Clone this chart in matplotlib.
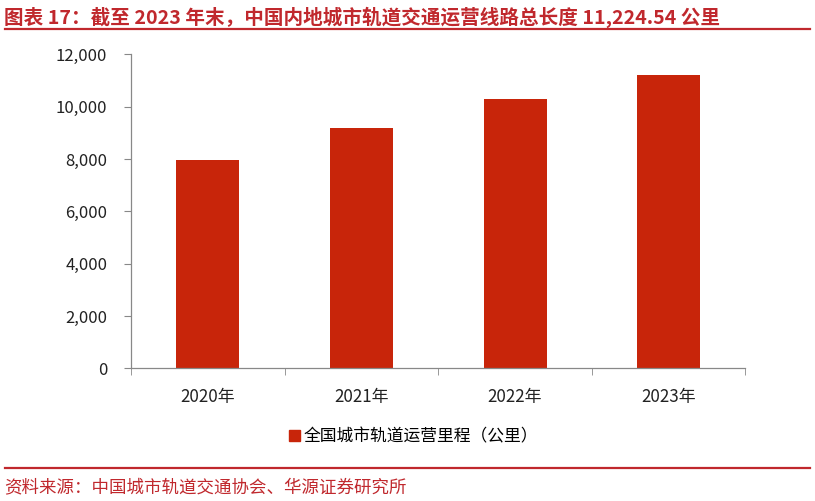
import matplotlib.pyplot as plt
from matplotlib.patches import Rectangle
from matplotlib.lines import Line2D

plt.rcParams['font.family'] = ['Noto Sans CJK SC', 'DejaVu Sans']

# data
years = ['2020年', '2021年', '2022年', '2023年']
km = [7978.19, 9192.62, 10287.45, 11224.54]
yticks = [0, 2000, 4000, 6000, 8000, 10000, 12000]

title = '图表 17：截至 2023 年末，中国内地城市轨道交通运营线路总长度 11,224.54 公里'
source = '资料来源：中国城市轨道交通协会、华源证券研究所'
series_name = '全国城市轨道运营里程（公里）'

bar_color = '#C8250A'
red = '#C0282D'

fig = plt.figure(figsize=(8.15, 5.01), dpi=100)
ax = fig.add_axes([0.1607, 0.2649, 0.754, 0.6267])

ax.bar(range(len(years)), km, width=0.41, color=bar_color, label=series_name)
ax.set_xlim(-0.5, len(years) - 0.5)
ax.set_ylim(0, 12000)
ax.set_yticks(yticks)
ax.set_yticklabels([f'{v:,}' for v in yticks], fontsize=12, color='#222222')
ax.set_xticks(range(len(years)))
ax.set_xticklabels(years, fontsize=12.2, color='#222222')
ax.set_xticks([i - 0.5 for i in range(len(years) + 1)], minor=True)
ax.tick_params(axis='x', which='major', length=0, pad=14)
ax.tick_params(axis='x', which='minor', length=5, color='#888888', direction='out')
ax.tick_params(axis='y', length=5, color='#888888', pad=12)
for s in ['top', 'right']:
    ax.spines[s].set_visible(False)
for s in ['left', 'bottom']:
    ax.spines[s].set_color('#888888')
    ax.spines[s].set_linewidth(0.9)

fig.legend(handles=[Rectangle((0, 0), 1, 1, color=bar_color)], labels=[series_name],
           loc='center', bbox_to_anchor=(0.507, 0.128), frameon=False, fontsize=12.1,
           handlelength=0.65, handleheight=0.65, handletextpad=0.2)

fig.text(0.005, 0.965, title, fontsize=14.1, fontweight='bold', color=red, va='center', ha='left')
fig.add_artist(Line2D([0.006, 0.994], [0.942, 0.942], color=red, lw=1.6))
fig.add_artist(Line2D([0.006, 0.994], [0.066, 0.066], color=red, lw=1.6))
fig.text(0.005, 0.027, source, fontsize=12.6, fontweight='light', color=red, va='center', ha='left')

fig.savefig('out.png', dpi=100)
